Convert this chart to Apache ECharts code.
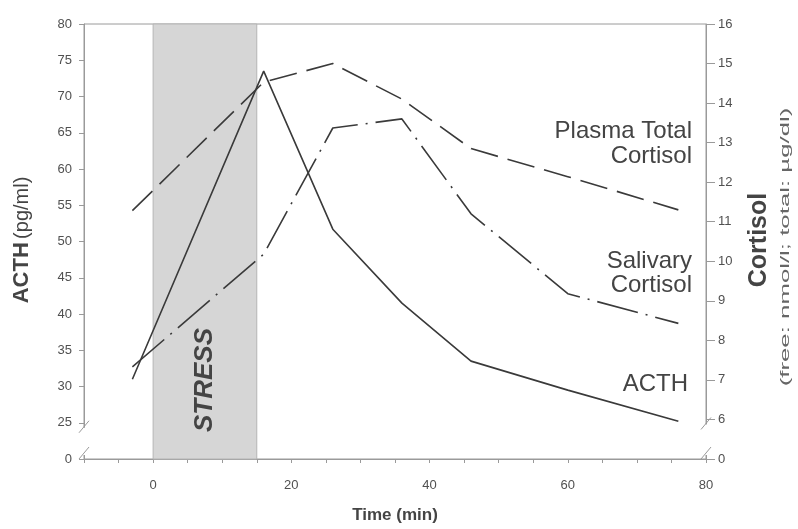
<!DOCTYPE html>
<html><head><meta charset="utf-8">
<script src="https://cdn.jsdelivr.net/npm/echarts@6/dist/echarts.min.js"></script>
<style>html,body{margin:0;padding:0;background:#fff}#c{width:798px;height:529px}</style>
</head><body><div id="c"></div>
<script>
// ---- data ----
const timePoints = [-3, 16, 26, 36, 46, 60, 76];
const acth = [31.0, 73.5, 51.7, 41.5, 33.5, 29.5, 25.2];               // pg/ml, left axis
const plasmaCortisol = [11.28, 14.53, 15.0, 14.1, 12.85, 12.14, 11.3];   // right axis
const salivaryCortisol = [7.33, 10.18, 13.37, 13.6, 11.2, 9.18, 8.43];   // right axis
const stressWindow = [0, 15];
const xTickLabels = [0, 20, 40, 60, 80];
const leftAxisRange = [20, 80];   // 20 is drawn as the broken "0"
const rightAxisRange = [5, 16];   // 5 is drawn as the broken "0"
const seriesNames = ['ACTH', 'Plasma Total Cortisol', 'Salivary Cortisol'];

const FONT = "'Liberation Sans', Arial, sans-serif";
const LINE = '#3a3a3a';
const AXIS = '#9a9a9a';
const TXT = '#505050';

function pairs(ys) { return timePoints.map((t, i) => [t, ys[i]]); }

const chart = echarts.init(document.getElementById('c'), null, {renderer: 'canvas'});
chart.setOption({
  animation: false,
  backgroundColor: '#fff',
  grid: {left: 84, right: 92, top: 24, bottom: 67, show: true, borderColor: AXIS, borderWidth: 1},
  xAxis: {
    type: 'value', min: -10, max: 80, interval: 5,
    axisLine: {show: true, onZero: false, lineStyle: {color: AXIS, width: 1}},
    axisTick: {show: true, length: 4, lineStyle: {color: AXIS}},
    splitLine: {show: false},
    axisLabel: {
      color: TXT, fontFamily: FONT, fontSize: 13, margin: 20,
      formatter: v => xTickLabels.indexOf(v) >= 0 ? String(v) : ''
    },
    name: 'Time (min)', nameLocation: 'middle', nameGap: 48,
    nameTextStyle: {color: '#444', fontFamily: FONT, fontSize: 17, fontWeight: 'bold'}
  },
  yAxis: [{
    type: 'value', position: 'left', min: leftAxisRange[0], max: leftAxisRange[1], interval: 5,
    axisLine: {show: true, onZero: false, lineStyle: {color: AXIS, width: 1}},
    axisTick: {show: true, length: 5, lineStyle: {color: AXIS}},
    splitLine: {show: false},
    axisLabel: {color: TXT, fontFamily: FONT, fontSize: 13, margin: 12,
      formatter: v => v === leftAxisRange[0] ? '0' : String(v)}
  }, {
    type: 'value', position: 'right', min: rightAxisRange[0], max: rightAxisRange[1], interval: 1,
    axisLine: {show: true, onZero: false, lineStyle: {color: AXIS, width: 1}},
    axisTick: {show: true, length: 9, lineStyle: {color: AXIS}},
    splitLine: {show: false},
    axisLabel: {color: TXT, fontFamily: FONT, fontSize: 13, margin: 12,
      formatter: v => v === rightAxisRange[0] ? '0' : String(v)}
  }],
  series: [{
    name: seriesNames[0], type: 'line', yAxisIndex: 0, data: pairs(acth),
    showSymbol: false, symbol: 'none',
    lineStyle: {color: LINE, width: 1.6},
    markArea: {
      silent: true,
      itemStyle: {color: '#d6d6d6', borderColor: '#b5b5b5', borderWidth: 1},
      data: [[{xAxis: stressWindow[0]}, {xAxis: stressWindow[1]}]]
    },
    z: 3
  }, {
    name: seriesNames[1], type: 'line', yAxisIndex: 1, data: pairs(plasmaCortisol),
    showSymbol: false, symbol: 'none',
    lineStyle: {color: LINE, width: 1.6, type: [28, 10]}, z: 3
  }, {
    name: seriesNames[2], type: 'line', yAxisIndex: 1, data: pairs(salivaryCortisol),
    showSymbol: false, symbol: 'none',
    lineStyle: {color: LINE, width: 1.6, type: [42, 8, 2, 8]}, z: 3
  }]
});

// ---- decorations: axis breaks, titles and in-plot labels ----
const pL = chart.convertToPixel({xAxisIndex: 0, yAxisIndex: 0}, [-10, 25]);
const p0 = chart.convertToPixel({xAxisIndex: 0, yAxisIndex: 0}, [-10, 20]);
const pR = chart.convertToPixel({xAxisIndex: 0, yAxisIndex: 1}, [80, 6]);
const sMid = chart.convertToPixel({xAxisIndex: 0, yAxisIndex: 0}, [(stressWindow[0] + stressWindow[1]) / 2, 20]);

function breakMarks(x, yTop, yBot) {
  const gapTop = yTop + 5, gapBot = yBot - 4;
  return [
    {type: 'rect', shape: {x: x - 3, y: gapTop, width: 6, height: gapBot - gapTop}, style: {fill: '#fff'}, z: 100},
    {type: 'line', shape: {x1: x - 5, y1: gapTop + 5, x2: x + 5, y2: gapTop - 7}, style: {stroke: AXIS, lineWidth: 1}, z: 101},
    {type: 'line', shape: {x1: x - 5, y1: gapBot + 4, x2: x + 5, y2: gapBot - 8}, style: {stroke: AXIS, lineWidth: 1}, z: 101}
  ];
}

const graphics = [].concat(
  breakMarks(pL[0], pL[1], p0[1]),
  breakMarks(pR[0], pR[1], p0[1]),
  [
    {type: 'text', x: sMid[0], y: 380, rotation: Math.PI / 2, z: 50,
      style: {text: 'STRESS', fill: '#444', font: "italic bold 26px " + FONT, align: 'center', verticalAlign: 'middle'}},
    {type: 'text', x: 22, y: 240, rotation: Math.PI / 2, z: 50,
      style: {text: '{b|ACTH} {n|(pg/ml)}', align: 'center', verticalAlign: 'middle',
        rich: {b: {fontFamily: FONT, fontSize: 22, fontWeight: 'bold', fill: '#444'},
               n: {fontFamily: FONT, fontSize: 20, fill: '#444'}}}},
    {type: 'text', x: 759, y: 240, rotation: Math.PI / 2, z: 50,
      style: {text: 'Cortisol', fill: '#444', font: "bold 25px " + FONT, align: 'center', verticalAlign: 'middle'}},
    {type: 'text', x: 786, y: 247, rotation: Math.PI / 2, scaleX: 2.15, z: 50,
      style: {text: '(free: nmol/l; total: µg/dl)', fill: '#666', font: "12px " + FONT, align: 'center', verticalAlign: 'middle'}},
    {type: 'text', x: 692, y: 144, z: 50,
      style: {text: 'Plasma Total\nCortisol', fill: '#444', font: "24px " + FONT, align: 'right', verticalAlign: 'middle', lineHeight: 25}},
    {type: 'text', x: 692, y: 273, z: 50,
      style: {text: 'Salivary\nCortisol', fill: '#444', font: "24px " + FONT, align: 'right', verticalAlign: 'middle', lineHeight: 24}},
    {type: 'text', x: 688, y: 384, z: 50,
      style: {text: 'ACTH', fill: '#444', font: "24px " + FONT, align: 'right', verticalAlign: 'middle'}}
  ]
);
chart.setOption({graphic: graphics});
</script></body></html>
